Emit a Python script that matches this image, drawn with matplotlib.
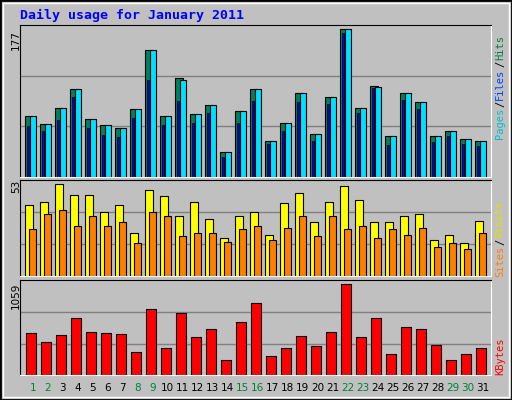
import matplotlib
matplotlib.use("Agg")
import matplotlib.pyplot as plt
from matplotlib.patches import Rectangle
import numpy as np

days = list(range(1, 32))
weekend = [1, 2, 8, 9, 15, 16, 22, 23, 29, 30]
hits = [73,63,83,105,69,62,59,81,152,73,118,75,86,29,79,105,43,64,100,51,96,177,83,109,49,100,90,49,55,45,43]
files = [73,63,83,105,69,62,59,81,152,73,116,75,86,29,79,105,43,64,100,51,96,177,83,108,49,100,90,49,55,45,43]
pages = [61,55,68,96,59,50,47,71,116,62,91,64,77,24,65,91,39,55,90,43,87,173,77,106,38,92,81,41,49,39,37]
sites = [41,43,53,47,47,37,41,25,50,46,35,43,33,22,35,37,24,42,48,31,43,52,44,31,31,35,36,21,24,19,32]
visits = [27,36,38,29,35,29,31,19,37,35,23,25,25,20,27,29,21,28,35,23,35,27,29,22,27,24,28,17,19,16,25]
kbytes = [489,384,465,663,500,489,477,268,768,314,722,442,535,175,617,838,221,314,454,337,500,1059,442,663,244,559,535,349,175,244,314]

W, H = 512, 400
fig = plt.figure(figsize=(W/100, H/100), dpi=100, facecolor="#C0C0C0")
fig.patches.append(Rectangle((0, 0), 1, 1, transform=fig.transFigure, fill=False, ec="black", lw=2))
fig.patches.append(Rectangle((3/W, 3/H), 1-6/W, 1-6/H, transform=fig.transFigure, fill=False, ec="white", lw=1))

mono = "DejaVu Sans Mono"
x = np.arange(31)

def mkax(top, base, ymax):
    ax = fig.add_axes([20/W, (H-base)/H, 471/W, (base-top)/H])
    ax.set_facecolor("#C0C0C0")
    ax.set_xlim(0, 31.4)
    ax.set_ylim(0, ymax)
    ax.set_xticks([]); ax.set_yticks([])
    for f in (1/3, 2/3):
        ax.axhline(ymax*f, color="#808080", lw=1, zorder=0)
    ax.spines["left"].set_color("black"); ax.spines["top"].set_color("black")
    ax.spines["right"].set_color("white"); ax.spines["bottom"].set_color("white")
    return ax

ax1 = mkax(25, 176.5, 177*151.5/147)
ax1.bar(x+0.35, hits, width=0.52, align="edge", color="#00805C", ec="black", lw=0.8)
ax1.bar(x+0.64, files, width=0.45, align="edge", color="#00E0FF", ec="black", lw=0.8)
ax1.bar(x+0.45, pages, width=0.12, align="edge", color="#0000FF", ec="black", lw=0.5)

ax2 = mkax(180, 276.3, 53*96.3/92)
ax2.bar(x+0.35, sites, width=0.53, align="edge", color="#FFFF00", ec="black", lw=0.8)
ax2.bar(x+0.62, visits, width=0.47, align="edge", color="#FF8000", ec="black", lw=0.8)

ax3 = mkax(280.3, 375.3, 1059*95/91)
ax3.bar(x+0.42, kbytes, width=0.66, align="edge", color="#FF0000", ec="black", lw=0.8)

for d in days:
    fig.text((20 + (d-1+0.85)*15.0)/W, 1-388/H, str(d), ha="center", va="center",
             fontsize=7.5, color="#008040" if d in weekend else "black")

fig.text(20/W, 1-15/H, "Daily usage for January 2011", fontsize=9.5, fontweight="bold",
         family=mono, color="#0000FF", va="center")

fig.text(16/W, 1-30/H, "177", rotation=90, ha="center", va="top", fontsize=7.5)
fig.text(16/W, 1-180/H, "53", rotation=90, ha="center", va="top", fontsize=7.5)
fig.text(16/W, 1-283/H, "1059", rotation=90, ha="center", va="top", fontsize=7.5)

fig.canvas.draw()
renderer = fig.canvas.get_renderer()

def vstack(parts, ybottom):
    y = ybottom
    for s, c in parts:
        t = fig.text(500/W, 1-y/H, s, rotation=90, ha="center", va="bottom",
                     fontsize=7.5, family=mono, color=c)
        ext = t.get_window_extent(renderer)
        y -= ext.height + 1

vstack([("Pages", "#00C0D0"), ("/", "black"), ("Files", "#0040FF"), ("/", "black"), ("Hits", "#008040")], 139)
vstack([("Sites", "#FF8000"), ("/", "black"), ("Visits", "#E0E000")], 277)
vstack([("KBytes", "#FF0000")], 375)

fig.savefig("out.png", dpi=100, facecolor=fig.get_facecolor())
